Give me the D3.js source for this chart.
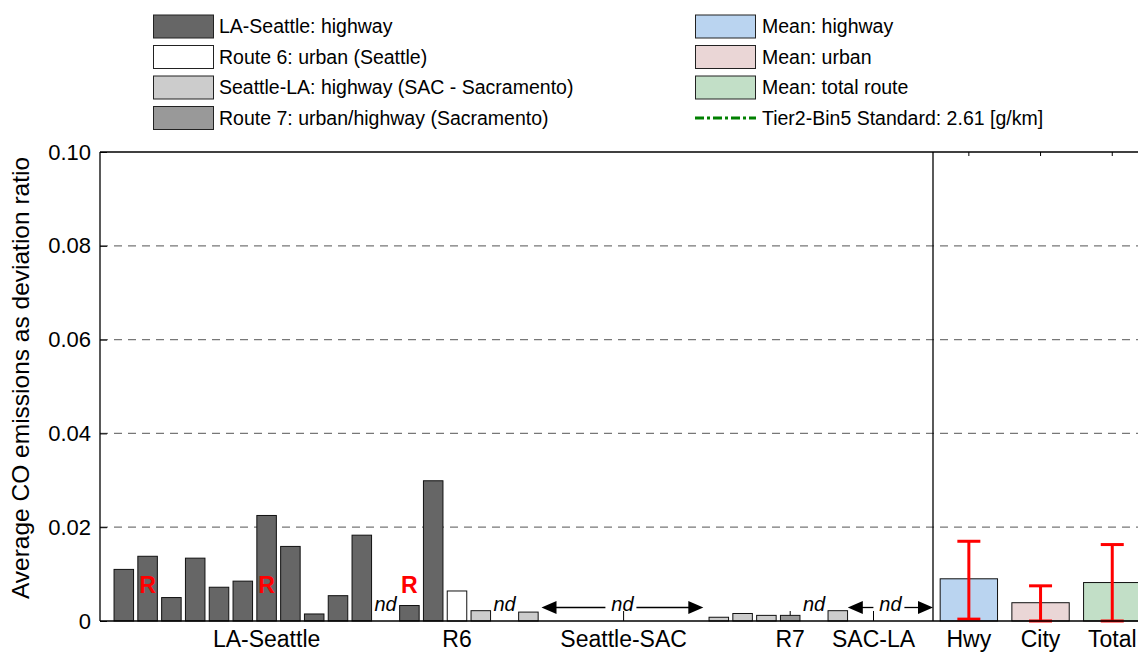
<!DOCTYPE html>
<html>
<head>
<meta charset="utf-8">
<script src="https://cdn.jsdelivr.net/npm/d3@7"></script>
<style>
  body { margin: 0; background: #fff; }
  svg { display: block; font-family: "Liberation Sans", Arial, sans-serif; }
</style>
</head>
<body>
<div id="chart"></div>
<script>
// slot index along the left panel (1 slot per test run)
const slots = [1, 2, 3, 4, 5, 6, 7, 8, 9, 10, 11, 13, 14, 15, 16, 18, 26, 27, 28, 29, 31];
const values = [0.0110, 0.0138, 0.0050, 0.0134, 0.0072, 0.0085, 0.0225, 0.0159, 0.0015, 0.0054, 0.0183,
                0.0033, 0.0299, 0.0064, 0.0022, 0.0019, 0.0008, 0.0016, 0.0012, 0.0012, 0.0022];
const routes = ["LA", "LA", "LA", "LA", "LA", "LA", "LA", "LA", "LA", "LA", "LA",
                "LA", "LA", "R6", "SL", "SL", "SL", "SL", "SL", "R7", "SL"];
const rSlots = [2, 7, 13];
const ndSlots = [12, 17, 30];
const ndArrows = [[18.55, 25.35], [31.42, 35]];

const groupLabels = ["LA-Seattle", "R6", "Seattle-SAC", "R7", "SAC-LA"];
const groupPos = [7, 15, 22, 29, 32.5];

const meanLabels = ["Hwy", "City", "Total"];
const meanValues = [0.0090, 0.0039, 0.0082];
const errHigh = [0.0170, 0.0075, 0.0163];
const errLow = [0.0004, 0.0, 0.0];

const yTicks = [0, 0.02, 0.04, 0.06, 0.08, 0.10];

const legendLeft = ["LA-Seattle: highway", "Route 6: urban (Seattle)", "Seattle-LA: highway (SAC - Sacramento)", "Route 7: urban/highway (Sacramento)"];
const legendRight = ["Mean: highway", "Mean: urban", "Mean: total route", "Tier2-Bin5 Standard: 2.61 [g/km]"];

const routeColor = { LA: "#666666", R6: "#ffffff", SL: "#cccccc", R7: "#999999" };
const meanColor = ["#bad4f0", "#ead6d6", "#c2dfc7"];

const W = 1138, H = 652;
const plotLeft = 100, divX = 933, plotTop = 152, plotBottom = 621;

const svg = d3.select("#chart").append("svg")
    .attr("width", W)
    .attr("height", H);

const x = d3.scaleLinear().domain([0, 35]).range([plotLeft, divX]);
const xm = d3.scaleLinear().domain([0, 3]).range([divX, divX + 3 * 71.7]);
const y = d3.scaleLinear().domain([0, 0.1]).range([plotBottom, plotTop]);
const slotW = (x(1) - x(0)) * 0.82;
const meanW = (xm(1) - xm(0)) * 0.8;

// grid
svg.append("g").selectAll("line")
    .data(yTicks.filter(d => d > 0 && d < 0.1))
    .enter().append("line")
    .attr("x1", plotLeft).attr("x2", W)
    .attr("y1", d => y(d)).attr("y2", d => y(d))
    .style("stroke", "#777")
    .style("stroke-width", 1.2)
    .style("stroke-dasharray", "8,6");

// y axis
const yAxis = svg.append("g")
    .attr("transform", "translate(" + plotLeft + ",0)")
    .call(d3.axisLeft(y).tickValues(yTicks)
        .tickFormat(d => d === 0 ? "0" : d3.format(".2f")(d))
        .tickSize(-7).tickPadding(9));
yAxis.select(".domain").remove();
yAxis.selectAll("text").style("font-size", "22px").style("fill", "#000")
    .attr("font-family", "Liberation Sans, Arial, sans-serif");

svg.append("text")
    .attr("transform", "translate(29," + 378 + ")rotate(-90)")
    .attr("text-anchor", "middle")
    .style("font-size", "24.5px")
    .text("Average CO emissions as deviation ratio");

// group ticks on the baseline
svg.append("g").selectAll("line")
    .data(groupPos)
    .enter().append("line")
    .attr("x1", d => x(d)).attr("x2", d => x(d))
    .attr("y1", plotBottom).attr("y2", plotBottom - 10)
    .style("stroke", "#000");

// top ticks of the mean panel
svg.append("g").selectAll("line")
    .data(meanLabels)
    .enter().append("line")
    .attr("x1", (d, i) => xm(i + 0.5)).attr("x2", (d, i) => xm(i + 0.5))
    .attr("y1", plotTop).attr("y2", plotTop + 4)
    .style("stroke", "#000");

// bars
svg.append("g").selectAll("rect")
    .data(values)
    .enter().append("rect")
    .attr("x", (d, i) => x(slots[i]) - slotW / 2)
    .attr("width", slotW)
    .attr("y", d => y(d))
    .attr("height", d => y(0) - y(d))
    .style("fill", (d, i) => routeColor[routes[i]])
    .style("stroke", "#111")
    .style("stroke-width", 1);

// R markers
svg.append("g").selectAll("text")
    .data(rSlots)
    .enter().append("text")
    .attr("x", d => x(d))
    .attr("y", 593)
    .attr("text-anchor", "middle")
    .style("font-size", "23px")
    .style("font-weight", "bold")
    .style("fill", "#ff0000")
    .text("R");

// nd markers
svg.append("g").selectAll("text")
    .data(ndSlots)
    .enter().append("text")
    .attr("x", d => x(d))
    .attr("y", 611)
    .attr("text-anchor", "middle")
    .style("font-size", "20px")
    .style("font-style", "italic")
    .text("nd");

// nd arrows
ndArrows.forEach(a => {
    const x0 = x(a[0]), x1 = x(a[1]), xc = (x0 + x1) / 2, ay = 607.5;
    const g = svg.append("g");
    g.append("text")
        .attr("x", xc).attr("y", 611)
        .attr("text-anchor", "middle")
        .style("font-size", "20px")
        .style("font-style", "italic")
        .text("nd");
    g.append("line").attr("x1", x0 + 14).attr("x2", xc - 17).attr("y1", ay).attr("y2", ay).style("stroke", "#000").style("stroke-width", 1.3);
    g.append("line").attr("x1", xc + 14).attr("x2", x1 - 14).attr("y1", ay).attr("y2", ay).style("stroke", "#000").style("stroke-width", 1.3);
    g.append("path").attr("d", "M" + x0 + "," + ay + "L" + (x0 + 15) + "," + (ay - 6.5) + "L" + (x0 + 15) + "," + (ay + 6.5) + "Z").style("fill", "#000");
    g.append("path").attr("d", "M" + x1 + "," + ay + "L" + (x1 - 15) + "," + (ay - 6.5) + "L" + (x1 - 15) + "," + (ay + 6.5) + "Z").style("fill", "#000");
});

// mean bars
svg.append("g").selectAll("rect")
    .data(meanValues)
    .enter().append("rect")
    .attr("x", (d, i) => xm(i + 0.5) - meanW / 2)
    .attr("width", meanW)
    .attr("y", d => y(d))
    .attr("height", d => y(0) - y(d))
    .style("fill", (d, i) => meanColor[i])
    .style("stroke", "#111")
    .style("stroke-width", 1);

// error bars
const err = svg.append("g").style("stroke", "#ff0000").style("stroke-width", 3);
meanValues.forEach((d, i) => {
    const cx = xm(i + 0.5);
    err.append("line").attr("x1", cx).attr("x2", cx).attr("y1", y(errHigh[i])).attr("y2", y(errLow[i]));
    err.append("line").attr("x1", cx - 11.5).attr("x2", cx + 11.5).attr("y1", y(errHigh[i])).attr("y2", y(errHigh[i]));
    err.append("line").attr("x1", cx - 11.5).attr("x2", cx + 11.5).attr("y1", y(errLow[i])).attr("y2", y(errLow[i]));
});

// frame
svg.append("line").attr("x1", plotLeft).attr("x2", plotLeft).attr("y1", plotTop).attr("y2", plotBottom).style("stroke", "#000").style("stroke-width", 1.3);
svg.append("line").attr("x1", divX).attr("x2", divX).attr("y1", plotTop).attr("y2", plotBottom).style("stroke", "#000").style("stroke-width", 1.3);
svg.append("line").attr("x1", plotLeft).attr("x2", W).attr("y1", plotTop).attr("y2", plotTop).style("stroke", "#000").style("stroke-width", 1.3);
svg.append("line").attr("x1", plotLeft).attr("x2", W).attr("y1", plotBottom).attr("y2", plotBottom).style("stroke", "#000").style("stroke-width", 1.5);

// x labels
svg.append("g").selectAll("text")
    .data(groupLabels)
    .enter().append("text")
    .attr("x", (d, i) => x(groupPos[i]))
    .attr("y", 647)
    .attr("text-anchor", "middle")
    .style("font-size", "23px")
    .text(d => d);

svg.append("g").selectAll("text")
    .data(meanLabels)
    .enter().append("text")
    .attr("x", (d, i) => xm(i + 0.5))
    .attr("y", 647)
    .attr("text-anchor", "middle")
    .style("font-size", "23px")
    .text(d => d);

// legend
const legFills = [routeColor.LA, routeColor.R6, routeColor.SL, routeColor.R7];
const leg = svg.append("g");
legendLeft.forEach((t, i) => {
    const ry = 15 + i * 30.5;
    leg.append("rect").attr("x", 153.5).attr("y", ry).attr("width", 60).attr("height", 23)
        .style("fill", legFills[i]).style("stroke", "#222").style("stroke-width", 1);
    leg.append("text").attr("x", 219).attr("y", ry + 11.5).attr("dy", "0.35em")
        .style("font-size", "19.5px").text(t);
});
legendRight.forEach((t, i) => {
    const ry = 15 + i * 30.5;
    if (i < 3) {
        leg.append("rect").attr("x", 695.5).attr("y", ry).attr("width", 60).attr("height", 23)
            .style("fill", meanColor[i]).style("stroke", "#222").style("stroke-width", 1);
    } else {
        leg.append("line").attr("x1", 695).attr("x2", 756).attr("y1", ry + 11.5).attr("y2", ry + 11.5)
            .style("stroke", "#008000").style("stroke-width", 3).style("stroke-dasharray", "9,3,3,3");
    }
    leg.append("text").attr("x", 762).attr("y", ry + 11.5).attr("dy", "0.35em")
        .style("font-size", "19.5px").text(t);
});
</script>
</body>
</html>
